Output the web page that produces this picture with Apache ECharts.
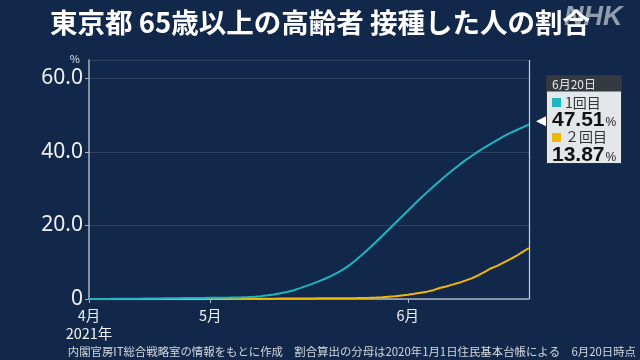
<!DOCTYPE html>
<html><head><meta charset="utf-8">
<script src="https://cdn.jsdelivr.net/npm/echarts@6/dist/echarts.min.js"></script>
<style>html,body{margin:0;padding:0;background:#12284a;}#c{width:640px;height:360px;}</style>
</head><body><div id="c"></div>
<script>
// Dates: 2021-04-12 .. 2021-06-20
const dates = [];
(function(){
  const months = [[4,12,30],[5,1,31],[6,1,20]];
  months.forEach(([m,s,e])=>{ for(let d=s; d<=e; d++) dates.push(m+'/'+d); });
})();
const seriesNames = ['1回目','２回目'];
const firstDose = [
 0.00,0.01,0.02,0.03,0.04,0.05,0.06,0.08,0.10,0.12,
 0.14,0.16,0.18,0.20,0.22,0.24,0.26,0.28,0.30,0.32,
 0.34,0.36,0.38,0.41,0.45,0.52,0.62,0.78,1.00,1.25,
 1.55,1.90,2.30,2.90,3.50,4.10,4.80,5.50,6.30,7.20,
 8.20,9.40,10.8,12.3,13.9,15.5,17.2,18.9,20.6,22.3,
 24.0,25.7,27.4,29.0,30.6,32.1,33.6,35.0,36.4,37.7,
 38.9,40.1,41.2,42.2,43.2,44.2,45.1,45.9,46.7,47.51
];
const secondDose = [
 0,0,0,0,0,0,0,0,0,0,
 0,0,0,0,0,0,0,0,0,0,
 0,0.02,0.03,0.04,0.05,0.06,0.07,0.08,0.09,0.10,
 0.11,0.12,0.13,0.14,0.15,0.16,0.17,0.18,0.19,0.20,
 0.21,0.23,0.25,0.28,0.32,0.38,0.45,0.60,0.75,0.95,
 1.15,1.40,1.70,2.00,2.40,3.00,3.40,3.90,4.40,5.00,
 5.60,6.40,7.30,8.30,9.00,9.90,10.8,11.7,12.8,13.87
];
const yTicks = [0,20,40,60];
const monthTickIdx = {0:'4月\n2021年', 19:'5月', 50:'6月'};
const asOf = '6月20日';
const colors = ['#1db5c0','#f2b705'];

const last = dates.length-1;
function withEnd(arr){
  return arr.map((v,i)=> i===last ? {value:v, symbol:'circle', symbolSize:5} : v);
}
const chart = echarts.init(document.getElementById('c'), null, {renderer:'canvas'});
const font = '"Noto Sans CJK JP","Noto Sans",sans-serif';
const lastY = dates[last];
chart.setOption({
  backgroundColor:'#12284a',
  animation:false,
  textStyle:{fontFamily:font},
  grid:{left:89, right:111, top:60, bottom:61},
  xAxis:{
    type:'category', data:dates, boundaryGap:false,
    axisLine:{lineStyle:{color:'#aab4c2', width:1.5}},
    axisTick:{interval:(i)=> i in monthTickIdx, length:4, lineStyle:{color:'#aab4c2'}},
    axisLabel:{interval:(i)=> i in monthTickIdx, formatter:(v,i)=>monthTickIdx[i]||'',
      color:'#f2f2f2', fontSize:14.5, lineHeight:18, margin:7, fontFamily:font},
    splitLine:{show:false}
  },
  yAxis:{
    type:'value', min:0, max:65, interval:20,
    name:'%', nameLocation:'end', nameGap:0,
    nameTextStyle:{color:'#dfe3e8', fontSize:11, align:'right', verticalAlign:'bottom', padding:[0,9,-4,0]},
    axisLine:{show:true, lineStyle:{color:'#aab4c2', width:1.5}},
    axisTick:{show:true, length:4, lineStyle:{color:'#aab4c2'}},
    axisLabel:{showMaxLabel:false, formatter:(v)=> yTicks.includes(v) ? (v===0?'0':v.toFixed(1)) : '',
      color:'#f2f2f2', fontSize:21, margin:6, fontFamily:'"Noto Sans",sans-serif'},
    splitLine:{lineStyle:{color:'rgba(255,255,255,0.12)', width:1}}
  },
  series:[
    {name:seriesNames[1], type:'line', data:withEnd(secondDose), showSymbol:true, symbol:'none',
      lineStyle:{color:colors[1], width:2}, itemStyle:{color:colors[1]}, z:2},
    {name:seriesNames[0], type:'line', data:withEnd(firstDose), showSymbol:true, symbol:'none',
      lineStyle:{color:colors[0], width:2}, itemStyle:{color:colors[0]}, z:3,
      markLine:{symbol:'none', silent:true, label:{show:false},
        lineStyle:{color:'#c9cfd8', width:1.2, type:'solid'},
        data:[[{coord:[lastY,0]},{coord:[lastY,65]}]]},
      markPoint:{silent:true, data:[{coord:[lastY, firstDose[last]], symbol:'triangle', symbolRotate:90,
        symbolSize:[10,10], symbolOffset:[12,-3], itemStyle:{color:'#ffffff'}, label:{show:false}}]}
    }
  ],
  graphic:[
    {type:'text', left:564, top:4, z:1, style:{text:'NHK', fill:'rgba(200,206,216,0.7)', font:'italic bold 27px "Liberation Sans",sans-serif'}},
    {type:'text', x:320, y:23, z:10, style:{text:'東京都 65歳以上の高齢者 接種した人の割合', fill:'#ffffff', font:'bold 27.5px "Noto Sans CJK JP",sans-serif', textAlign:'center', textVerticalAlign:'middle'}},
    {type:'text', x:636, y:352, style:{text:'内閣官房IT総合戦略室の情報をもとに作成　割合算出の分母は2020年1月1日住民基本台帳による　'+asOf+'時点', fill:'#d3d8df', font:'11.4px "Noto Sans CJK JP",sans-serif', textAlign:'right', textVerticalAlign:'middle'}},
    // info box
    {type:'rect', shape:{x:546.5, y:75.5, width:75, height:88}, style:{fill:'#e4e7ea', stroke:'#2a2e34', lineWidth:1}},
    {type:'rect', shape:{x:546.5, y:75.5, width:75, height:16}, style:{fill:'#353a41'}},
    {type:'text', x:552, y:84, style:{text:asOf, fill:'#e8e8e8', font:'12px "Noto Sans CJK JP",sans-serif', textVerticalAlign:'middle'}},
    {type:'rect', shape:{x:552, y:98, width:9, height:9}, style:{fill:colors[0]}},
    {type:'text', x:565, y:103, style:{text:seriesNames[0], fill:'#333', font:'14px "Noto Sans CJK JP",sans-serif', textVerticalAlign:'middle'}},
    {type:'text', x:552, y:120, style:{rich:{a:{fill:'#111', font:'bold 21px "Liberation Sans",sans-serif'}, b:{fill:'#222', font:'12px "Liberation Sans",sans-serif', padding:[5,0,0,1]}}, text:'{a|'+firstDose[last].toFixed(2)+'}{b|%}', textVerticalAlign:'middle'}},
    {type:'rect', shape:{x:552, y:133, width:9, height:9}, style:{fill:colors[1]}},
    {type:'text', x:565, y:137, style:{text:seriesNames[1], fill:'#333', font:'14px "Noto Sans CJK JP",sans-serif', textVerticalAlign:'middle'}},
    {type:'text', x:552, y:155, style:{rich:{a:{fill:'#111', font:'bold 21px "Liberation Sans",sans-serif'}, b:{fill:'#222', font:'12px "Liberation Sans",sans-serif', padding:[5,0,0,1]}}, text:'{a|'+secondDose[last].toFixed(2)+'}{b|%}', textVerticalAlign:'middle'}}
  ]
});
</script></body></html>
